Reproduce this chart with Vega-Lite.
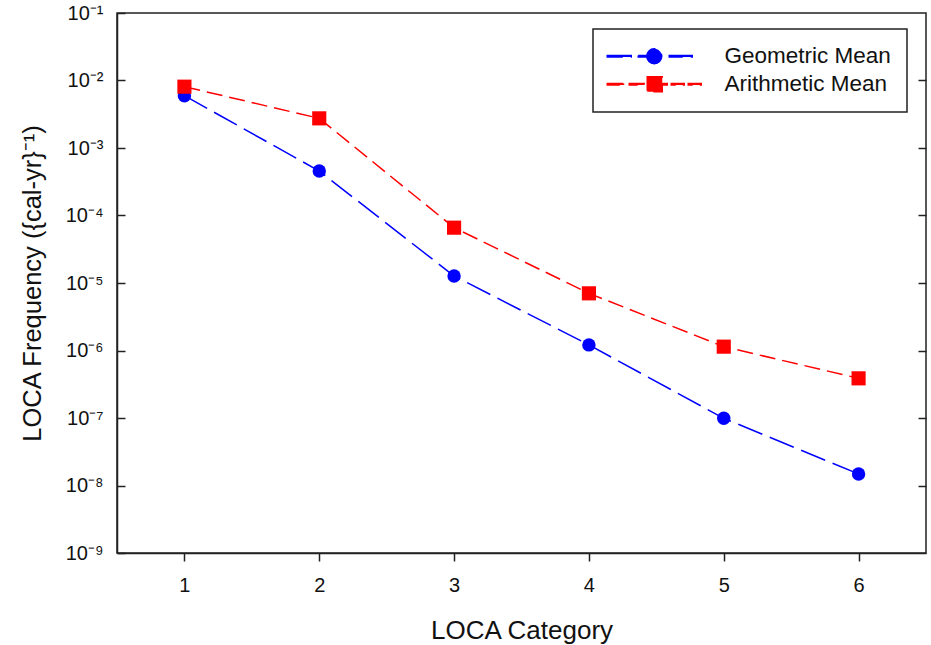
{
  "$schema": "https://vega.github.io/schema/vega-lite/v6.json",
  "width": 809,
  "height": 540,
  "autosize": "none",
  "padding": {"left": 117, "top": 13, "right": 5, "bottom": 92},
  "background": "white",
  "config": {
    "font": "Liberation Sans",
    "view": {"stroke": "#222", "strokeWidth": 1.5},
    "axis": {"domainColor": "#222", "domainWidth": 1.5, "tickColor": "#222", "tickWidth": 1.5, "labelColor": "#111", "titleColor": "#111", "labelFont": "Liberation Sans", "titleFont": "Liberation Sans", "titleFontWeight": "normal", "grid": false}
  },
  "data": {"values": [
    {"category": 1, "series": "Geometric Mean", "value": 5.96e-3},
    {"category": 2, "series": "Geometric Mean", "value": 4.56e-4},
    {"category": 3, "series": "Geometric Mean", "value": 1.27e-5},
    {"category": 4, "series": "Geometric Mean", "value": 1.21e-6},
    {"category": 5, "series": "Geometric Mean", "value": 9.9e-8},
    {"category": 6, "series": "Geometric Mean", "value": 1.48e-8},
    {"category": 1, "series": "Arithmetic Mean", "value": 8.1e-3},
    {"category": 2, "series": "Arithmetic Mean", "value": 2.75e-3},
    {"category": 3, "series": "Arithmetic Mean", "value": 6.6e-5},
    {"category": 4, "series": "Arithmetic Mean", "value": 7.03e-6},
    {"category": 5, "series": "Arithmetic Mean", "value": 1.14e-6},
    {"category": 6, "series": "Arithmetic Mean", "value": 3.87e-7}
  ]},
  "layer": [
    {
      "layer": [
        {
          "mark": {"type": "line", "strokeWidth": 1.5},
          "encoding": {
            "x": {"field": "category", "type": "quantitative", "scale": {"domain": [0.5, 6.5], "nice": false},
              "axis": {"values": [1, 2, 3, 4, 5, 6], "format": "d", "title": "LOCA Category", "titleFontSize": 26, "labelFontSize": 20, "tickSize": 8, "labelPadding": 14, "titlePadding": 22, "domain": true, "labelAngle": 0}},
            "y": {"field": "value", "type": "quantitative", "scale": {"type": "log", "domain": [1e-9, 1e-1], "nice": false},
              "axis": {"values": [1e-9, 1e-8, 1e-7, 1e-6, 1e-5, 1e-4, 1e-3, 1e-2, 1e-1], "title": "LOCA Frequency ({cal-yr}⁻¹)", "titleFontSize": 25.5, "labelFontSize": 20, "tickSize": -8, "labelPadding": 22, "titlePadding": 20,
                "labelExpr": "'10⁻' + substring('⁰¹²³⁴⁵⁶⁷⁸⁹', -round(log(datum.value)/LN10), -round(log(datum.value)/LN10) + 1)"}},
            "color": {"field": "series", "type": "nominal", "sort": ["Geometric Mean", "Arithmetic Mean"], "scale": {"domain": ["Geometric Mean", "Arithmetic Mean"], "range": ["#0000FF", "#FF0000"]},
              "legend": {"title": null, "orient": "none", "legendX": 476, "legendY": 16, "strokeColor": "#222", "padding": 16, "labelFontSize": 22.5, "labelLimit": 400, "labelFont": "Liberation Sans", "labelColor": "#111", "symbolSize": 4, "labelOffset": 93, "rowPadding": 5, "symbolType": "circle",
                "encode": {"legend": {"update": {"strokeWidth": {"value": 1.5}}}, "symbols": {"update": {"size": {"value": 4}, "fill": {"signal": "datum.value === 'Geometric Mean' ? '#0000FF' : '#FF0000'"}, "stroke": {"value": "transparent"}, "shape": {"signal": "datum.value === 'Geometric Mean' ? 'M-13,-0.75H11V0.75H-13Z M18,-0.75H27V0.75H18Z M49,-0.75H72V0.75H49Z M26.5,0A7.5,7.5 0 1,0 41.5,0A7.5,7.5 0 1,0 26.5,0Z' : 'M-13,-0.75H4V0.75H-13Z M9,-0.75H24V0.75H9Z M42,-0.75H47V0.75H42Z M51,-0.75H64V0.75H51Z M68,-0.75H81V0.75H68Z M27,-7.5H42V7.5H27Z'"}}}}}},
            "strokeDash": {"field": "series", "type": "nominal", "scale": {"domain": ["Geometric Mean", "Arithmetic Mean"], "range": [[26, 8], [16, 7]]}, "legend": null}
          }
        },
        {
          "transform": [{"filter": "datum.series === 'Geometric Mean'"}],
          "mark": {"type": "point", "filled": true, "opacity": 1, "size": 180, "shape": "circle"},
          "encoding": {
            "x": {"field": "category", "type": "quantitative"},
            "y": {"field": "value", "type": "quantitative"},
            "color": {"field": "series", "type": "nominal", "sort": ["Geometric Mean", "Arithmetic Mean"]}
          }
        },
        {
          "transform": [{"filter": "datum.series === 'Arithmetic Mean'"}],
          "mark": {"type": "point", "filled": true, "opacity": 1, "size": 200, "shape": "square"},
          "encoding": {
            "x": {"field": "category", "type": "quantitative"},
            "y": {"field": "value", "type": "quantitative"},
            "color": {"field": "series", "type": "nominal", "sort": ["Geometric Mean", "Arithmetic Mean"]}
          }
        }
      ]
    },
    {
      "mark": {"type": "point", "opacity": 0},
      "encoding": {
        "x": {"field": "category", "type": "quantitative"},
        "y": {"field": "value", "type": "quantitative", "scale": {"type": "log", "domain": [1e-9, 1e-1], "nice": false},
          "axis": {"orient": "right", "values": [1e-8, 1e-7, 1e-6, 1e-5, 1e-4, 1e-3, 1e-2], "labels": false, "title": null, "domain": false, "tickSize": -8}}
      }
    }
  ],
  "resolve": {"scale": {"y": "independent"}}
}
